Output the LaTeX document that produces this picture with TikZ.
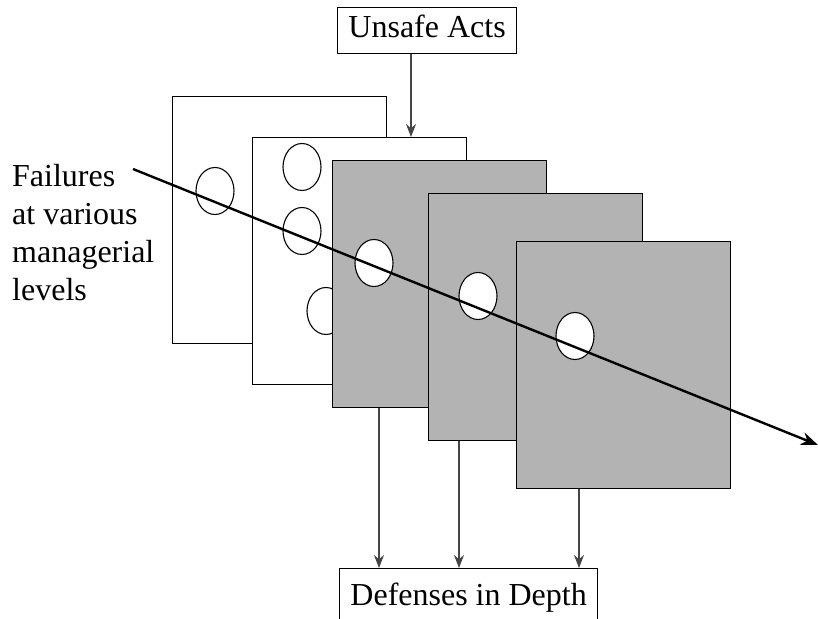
\documentclass[tikz,border=0pt]{standalone}
\usepackage{fontspec}
\setmainfont{Liberation Serif}
\usetikzlibrary{shapes,arrows.meta,positioning,calc}
\definecolor{slicegray}{RGB}{179,179,179}
\definecolor{linkgray}{RGB}{70,70,70}

\begin{document}
\begin{tikzpicture}[x=1pt,y=-1pt,
    label/.style={draw,line width=0.9pt,font=\fontsize{32}{38}\selectfont,text height=22pt,text depth=7pt,inner xsep=11pt,inner ysep=8.5pt,anchor=north west},
    slice/.style={draw,line width=1.1pt,fill=white,minimum width=214pt,minimum height=247pt,anchor=north west,inner sep=0pt},
    hole/.style={ellipse,draw,line width=1.1pt,fill=white,minimum width=38pt,minimum height=47pt,inner sep=0pt},
    feed/.style={linkgray,line width=1.3pt,-{Stealth[length=13pt,width=10pt]}}]
    \useasboundingbox (0,0) rectangle (818,618);
    % the slices, back to front
    \node[slice] (s1) at (172,96) {};
    \node[hole] (h1) at (215,191) {};
    \node[slice] (s2) at (252,137) {};
    \node[hole] (h2a) at (302,167) {};
    \node[hole] (h2b) at (302,231) {};
    \node[hole] (h2c) at (326,311) {};
    \node[slice,fill=slicegray] (s3) at (332,160) {};
    \node[hole] (h3) at (374,263) {};
    \node[slice,fill=slicegray] (s4) at (428,193) {};
    \node[hole] (h4) at (478,296) {};
    \node[slice,fill=slicegray] (s5) at (516,241) {};
    \node[hole] (h5) at (575,336) {};
    % labels
    \node[label] (acts) at (337,7) {Unsafe Acts};
    \node[label,inner ysep=15pt] (defs) at (339,568) {Defenses in Depth};
    \node[font=\fontsize{32}{38}\selectfont,align=left,anchor=north west,inner sep=0pt] (fail) at (12,164) {Failures\\at various\\managerial\\levels};
    % arrows
    \coordinate (drop) at ($(s2.north west)+(159,0)$);
    \draw[feed] (acts.south -| drop) -- (drop);
    \foreach \s/\dx in {s3/47,s4/31,s5/63}
        \draw[feed] ([xshift=\dx pt]\s.south west) -- ([xshift=\dx pt]\s.south west |- defs.north);
    \coordinate (entry) at (133,169);
    \coordinate (exit) at (818,445);
    \draw[line width=2.4pt,-{Stealth[length=17pt,width=13pt]}] (entry) -- (exit);
\end{tikzpicture}
\end{document}
